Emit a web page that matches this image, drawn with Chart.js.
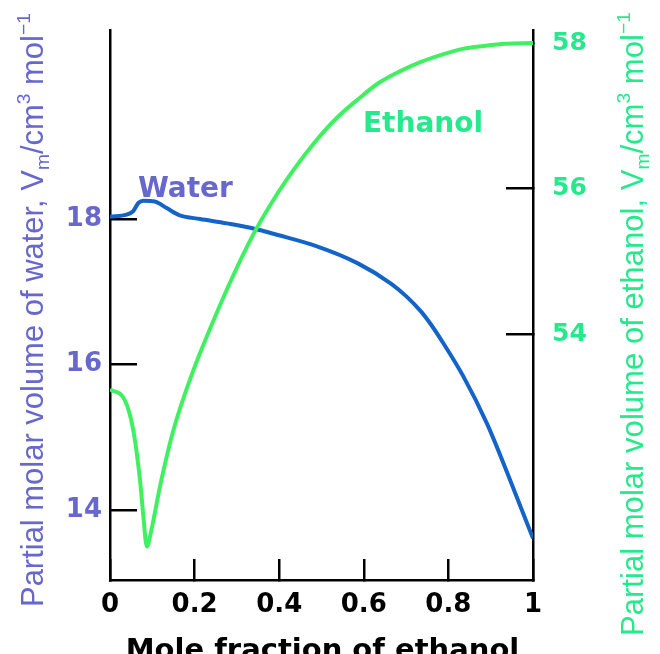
<!DOCTYPE html>
<html>
<head>
<meta charset="utf-8">
<title>Partial molar volumes of water and ethanol</title>
<script src="https://cdn.jsdelivr.net/npm/chart.js@4.4.1/dist/chart.umd.min.js"></script>
<style>
  html, body { margin: 0; padding: 0; background: #fff; }
  #wrap { width: 660px; height: 654px; position: relative; }
</style>
</head>
<body>
<div id="wrap"><canvas id="c"></canvas></div>
<script>
(function () {
    'use strict';

    // Water curve (left axis).
    var waterX = [0, 0.039, 0.055, 0.067, 0.079, 0.106, 0.134, 0.165, 0.213, 0.276,
                  0.339, 0.397, 0.486, 0.586, 0.665, 0.70, 0.735, 0.76, 0.785, 0.835,
                  0.891, 0.946, 1.0];
    var waterV = [18.03, 18.06, 18.11, 18.22, 18.25, 18.24, 18.15, 18.05, 18.0, 17.94,
                  17.87, 17.78, 17.63, 17.39, 17.11, 16.94, 16.73, 16.54, 16.32, 15.84,
                  15.19, 14.41, 13.61];

    // Ethanol curve (right axis).
    var ethanolX = [0, 0.035, 0.055, 0.071, 0.079, 0.087, 0.098, 0.118, 0.150, 0.197,
                    0.237, 0.287, 0.337, 0.387, 0.437, 0.486, 0.536, 0.585, 0.635, 0.685,
                    0.735, 0.785, 0.834, 0.884, 0.934, 1.0];
    var ethanolV = [53.24, 53.09, 52.68, 51.99, 51.49, 51.08, 51.31, 51.90, 52.68, 53.5,
                    54.08, 54.75, 55.35, 55.85, 56.28, 56.65, 56.97, 57.22, 57.45, 57.61,
                    57.74, 57.84, 57.92, 57.96, 57.99, 58.0];

    var xTicks = [0, 0.2, 0.4, 0.6, 0.8, 1];
    var xTickLabels = ['0', '0.2', '0.4', '0.6', '0.8', '1'];
    var waterTicks = [14, 16, 18];
    var ethanolTicks = [54, 56, 58];

    var PURPLE = '#6767cc';
    var BLUE = '#1464c8';
    var GREEN_LINE = '#40f060';
    var GREEN_TEXT = '#26e88c';
    var BOLD_FAMILY = "'DejaVu Sans', sans-serif";
    var TITLE_FAMILY = "'Liberation Sans', Arial, sans-serif";

    var waterTitle = [
        {t: 'Partial molar volume of water, '}, {t: 'V'}, {t: 'm', sub: true},
        {t: '/cm'}, {t: '3', sup: true}, {t: ' mol'}, {t: '\u22121', sup: true}
    ];
    var ethanolTitle = [
        {t: 'Partial molar volume of ethanol, '}, {t: 'V'}, {t: 'm', sub: true},
        {t: '/cm'}, {t: '3', sup: true}, {t: ' mol'}, {t: '\u22121', sup: true}
    ];

    // curve labels, placed in data coordinates
    var curveLabels = [
        {text: 'Water', x: 0.066, y: 18.30, axis: 'y', color: PURPLE},
        {text: 'Ethanol', x: 0.598, y: 56.78, axis: 'y2', color: GREEN_TEXT}
    ];

    function points(xs, ys) {
        return xs.map(function (x, i) { return {x: x, y: ys[i]}; });
    }

    function fixedTicks(values) {
        return function (scale) {
            scale.ticks = values.map(function (v) { return {value: v}; });
        };
    }

    // pin a scale's size and drop the label overhang padding
    function fitTo(prop, px) {
        return function (s) {
            s[prop] = px;
            s.paddingTop = s.paddingBottom = s.paddingLeft = s.paddingRight = 0;
        };
    }

    function partSize(p, size) {
        return (p.sub || p.sup) ? size * 0.62 : size;
    }

    function richWidth(ctx, parts, size, family) {
        var w = 0;
        parts.forEach(function (p) {
            ctx.font = partSize(p, size) + 'px ' + family;
            w += ctx.measureText(p.t).width;
        });
        return w;
    }

    function drawRich(ctx, parts, size, family) {
        var x = 0;
        parts.forEach(function (p) {
            var dy = p.sub ? size * 0.2 : (p.sup ? -size * 0.42 : 0);
            ctx.font = partSize(p, size) + 'px ' + family;
            ctx.fillText(p.t, x, dy);
            x += ctx.measureText(p.t).width;
        });
    }

    var textPlugin = {
        id: 'textPlugin',
        afterDraw: function (chart) {
            var ctx = chart.ctx;
            ctx.save();
            ctx.textAlign = 'left';
            ctx.textBaseline = 'alphabetic';

            // rotated axis titles, fitted to the length they have in the picture
            [
                {parts: waterTitle, x: 43, y: 607, len: 594, color: PURPLE},
                {parts: ethanolTitle, x: 643, y: 636, len: 624, color: GREEN_TEXT}
            ].forEach(function (t) {
                var size = 30 * t.len / richWidth(ctx, t.parts, 30, TITLE_FAMILY);
                ctx.save();
                ctx.translate(t.x, t.y);
                ctx.rotate(-Math.PI / 2);
                ctx.fillStyle = t.color;
                drawRich(ctx, t.parts, size, TITLE_FAMILY);
                ctx.restore();
            });

            var xs = chart.scales.x;
            ctx.font = 'bold 29px ' + BOLD_FAMILY;
            ctx.fillStyle = '#000';
            ctx.textAlign = 'center';
            ctx.fillText('Mole fraction of ethanol', (xs.left + xs.right) / 2 + 1, 659);

            ctx.textAlign = 'left';
            ctx.font = 'bold 28px ' + BOLD_FAMILY;
            curveLabels.forEach(function (l) {
                ctx.fillStyle = l.color;
                ctx.fillText(l.text, xs.getPixelForValue(l.x),
                    chart.scales[l.axis].getPixelForValue(l.y));
            });
            ctx.restore();
        }
    };

    var axisGrid = {
        display: true, drawOnChartArea: false, drawTicks: true,
        color: '#000', lineWidth: 2.5
    };
    var axisBorder = {display: true, color: '#000', width: 2.5};

    new Chart(document.getElementById('c'), {
        type: 'line',
        data: {
            datasets: [{
                label: 'Ethanol',
                data: points(ethanolX, ethanolV),
                yAxisID: 'y2',
                borderColor: GREEN_LINE,
                borderWidth: 4,
                pointRadius: 0,
                cubicInterpolationMode: 'monotone',
                order: 0
            }, {
                label: 'Water',
                data: points(waterX, waterV),
                yAxisID: 'y',
                borderColor: BLUE,
                borderWidth: 4,
                pointRadius: 0,
                cubicInterpolationMode: 'monotone',
                order: 1
            }]
        },
        options: {
            responsive: true,
            maintainAspectRatio: false,
            animation: false,
            layout: {padding: {top: 30, left: 0, right: 0, bottom: 0}},
            plugins: {legend: {display: false}, tooltip: {enabled: false}},
            scales: {
                x: {
                    type: 'linear', position: 'bottom', min: 0, max: 1, z: 1,
                    afterBuildTicks: fixedTicks(xTicks),
                    afterFit: fitTo('height', 74),
                    ticks: {
                        callback: function (v, i) { return xTickLabels[i]; },
                        color: '#000', padding: 31, maxRotation: 0, autoSkip: false,
                        font: {family: BOLD_FAMILY, weight: 'bold', size: 26}
                    },
                    grid: Object.assign({tickLength: -21}, axisGrid),
                    border: axisBorder
                },
                y: {
                    type: 'linear', position: 'left', min: 13.038, max: 20.598, z: 1,
                    afterBuildTicks: fixedTicks(waterTicks),
                    afterFit: fitTo('width', 110),
                    ticks: {
                        color: PURPLE, padding: 35, autoSkip: false,
                        font: {family: BOLD_FAMILY, weight: 'bold', size: 26}
                    },
                    grid: Object.assign({tickLength: -27}, axisGrid),
                    border: axisBorder
                },
                y2: {
                    type: 'linear', position: 'right', min: 50.619, max: 58.179, z: 1,
                    afterBuildTicks: fixedTicks(ethanolTicks),
                    afterFit: fitTo('width', 127),
                    ticks: {
                        color: GREEN_TEXT, padding: 46, autoSkip: false,
                        font: {family: BOLD_FAMILY, weight: 'bold', size: 25}
                    },
                    grid: Object.assign({tickLength: -27}, axisGrid),
                    border: axisBorder
                }
            }
        },
        plugins: [textPlugin]
    });
})();
</script>
</body>
</html>
